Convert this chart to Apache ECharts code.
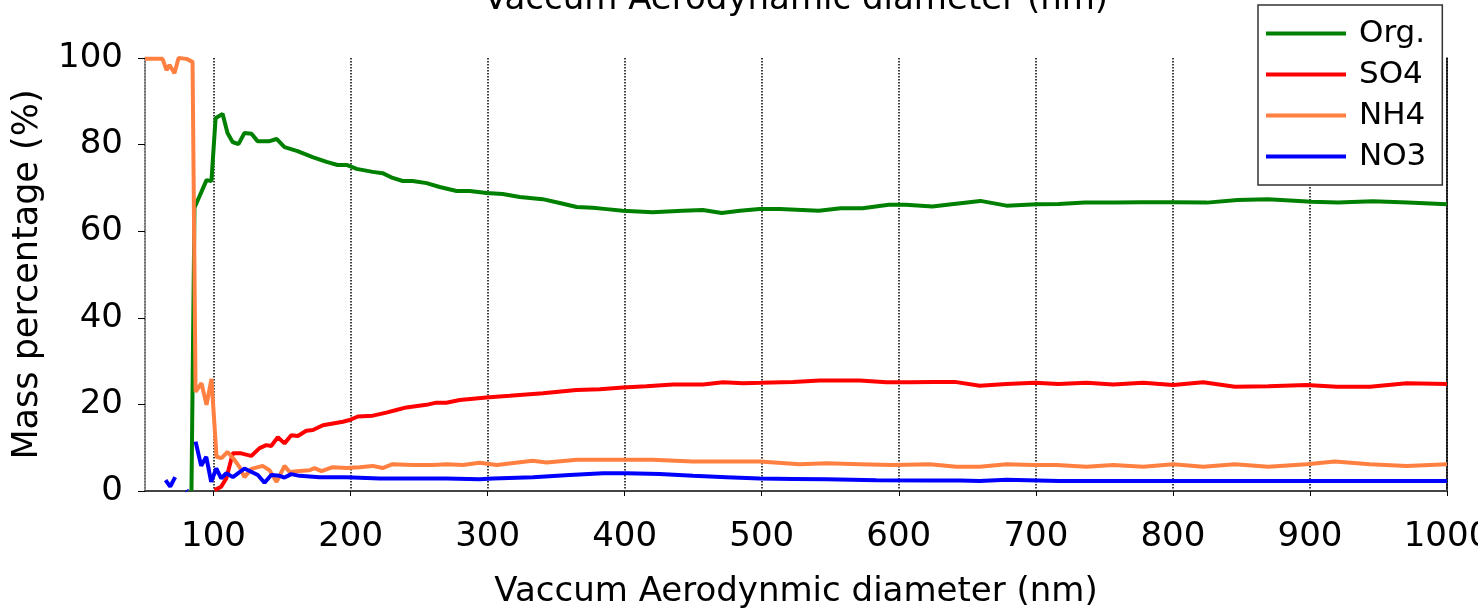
<!DOCTYPE html>
<html>
<head>
    <meta charset="utf-8">
    <title>Mass percentage</title>
    <style type="text/css">
        html, body { margin: 0; padding: 0; background: #fff; }
        #main { width: 1478px; height: 611px; }
    </style>
</head>
<body>
    <div id="main"></div>
</body>
<script src="https://cdn.jsdelivr.net/npm/echarts@6/dist/echarts.min.js"></script>
<script type="text/javascript">
    // [diameter (nm), mass percentage (%)]
    var orgData = [
        [83.9, 0], [86.1, 65.4], [94.9, 71.8], [98.5, 71.6], [101.5, 86.1], [106.6, 87.1],
        [110.2, 82.7], [113.9, 80.6], [118.2, 80.1], [122.6, 82.7], [127.7, 82.5], [132.1, 80.8],
        [140.9, 80.8], [146, 81.3], [151.8, 79.4], [161.3, 78.5], [172.3, 77.1], [182.5, 76],
        [190.5, 75.3], [197.1, 75.3], [204.4, 74.4], [216.1, 73.7], [223.4, 73.4], [230.7, 72.3],
        [238, 71.6], [245.3, 71.6], [255.5, 71.1], [265, 70.2], [277.4, 69.3], [286.9, 69.3],
        [299.3, 68.8], [311, 68.6], [323.4, 67.9], [340.1, 67.4], [352.6, 66.5], [365, 65.6],
        [376.6, 65.4], [386.9, 65.1], [398.5, 64.7], [420.4, 64.4], [442.3, 64.7], [457, 64.9],
        [470.8, 64.2], [484, 64.7], [498.5, 65.1], [513.1, 65.1], [541.6, 64.7], [557.7, 65.3],
        [573.6, 65.3], [592.7, 66.1], [605.1, 66.1], [624.5, 65.7], [640.1, 66.3], [659.5, 67],
        [678.6, 65.9], [700.7, 66.2], [716.8, 66.3], [735.8, 66.6], [758.2, 66.6], [777.2, 66.7],
        [799.5, 66.7], [824.8, 66.6], [847.2, 67.2], [869.3, 67.4], [901.3, 66.8], [920.4, 66.6],
        [945.9, 66.9], [971.3, 66.6], [1000, 66.2]
    ];
    var so4Data = [
        [100.7, 0.2], [105.6, 1.0], [109.3, 2.9], [114.1, 8.7], [120.2, 8.7], [127.5, 8.1],
        [133.6, 9.9], [138.5, 10.6], [142.1, 10.4], [146.9, 12.4], [151.8, 11.0], [156.7, 12.9],
        [161.5, 12.7], [167.7, 13.9], [172.5, 14.1], [179.8, 15.2], [187.1, 15.6], [194.4, 16.0],
        [199.3, 16.4], [205.3, 17.2], [216.3, 17.4], [226.1, 18.1], [233.4, 18.7], [240.7, 19.3],
        [255.3, 19.9], [262.6, 20.4], [269.9, 20.4], [279.6, 21.0], [299.1, 21.6], [316.1, 22.0],
        [340.4, 22.6], [364.7, 23.3], [381.8, 23.5], [398.8, 23.9], [415.8, 24.2], [435.3, 24.6],
        [457.2, 24.6], [471.8, 25.1], [486.4, 24.9], [499.8, 25.0], [522.8, 25.2], [542.3, 25.5],
        [571.5, 25.5], [591, 25.1], [608, 25.1], [625, 25.2], [640.9, 25.2], [659.1, 24.3],
        [678.6, 24.7], [699.3, 25.0], [716.3, 24.7], [737, 25.0], [756.4, 24.6], [778.3, 25.0],
        [800.2, 24.5], [822.1, 25.1], [845.3, 24.1], [869.6, 24.2], [897.6, 24.5], [919.5, 24.1],
        [943.8, 24.1], [970.6, 24.9], [1000, 24.7]
    ];
    var nh4Data = [
        [50, 99.8], [62.8, 99.8], [65.7, 97.2], [67.9, 98.4], [71.5, 96.5], [74.5, 100],
        [80.3, 99.8], [84.7, 99.1], [86.9, 22.9], [91.2, 24.9], [94.9, 19.9], [98.5, 25.9],
        [102.2, 7.9], [105.8, 7.6], [110.2, 9.0], [115.3, 7.2], [119, 5.5], [122.6, 3.2],
        [127.7, 5.1], [135.8, 5.8], [140.9, 4.8], [146, 2.1], [151.8, 5.8], [155.5, 4.4],
        [162.8, 4.6], [170.1, 4.8], [173.7, 5.3], [178.8, 4.6], [186.9, 5.5], [197.1, 5.3],
        [206.6, 5.5], [216.1, 5.8], [223.4, 5.3], [230.7, 6.2], [245.3, 6.0], [259.9, 6.0],
        [270.1, 6.2], [281.8, 6.0], [294.2, 6.5], [306.6, 6.0], [332.8, 7.0], [343.1, 6.6],
        [365, 7.2], [401.5, 7.2], [420.4, 7.2], [449.6, 6.8], [474.4, 6.8], [498.5, 6.8],
        [527.7, 6.2], [547.4, 6.4], [571.5, 6.2], [595.6, 6.0], [622.6, 6.2], [642.1, 5.6],
        [659.1, 5.6], [678.6, 6.2], [698, 6.0], [715.1, 6.0], [737, 5.6], [756.4, 6.0],
        [778.3, 5.6], [800.2, 6.2], [822.1, 5.6], [845.3, 6.2], [869.6, 5.6], [897.6, 6.2],
        [918.2, 6.8], [943.8, 6.2], [970.6, 5.8], [1000, 6.2]
    ];
    var no3Data = [
        [65, 2.5], [68.4, 1.0], [72, 3.2], null, [80.3, 0.2], [80.9, 0], null,
        [86.9, 11.4], [91, 5.8], [94.7, 7.9], [98.3, 2.1], [102, 5.2], [105.6, 2.9],
        [109.3, 4.1], [114.1, 3.2], [122.6, 5.2], [132.3, 3.7], [137.2, 1.9], [142.1, 3.7],
        [148.2, 3.5], [151.8, 3.1], [156.7, 3.9], [162.8, 3.5], [177.4, 3.2], [196.9, 3.2],
        [221.2, 2.9], [245.5, 2.9], [269.9, 2.9], [294.2, 2.7], [303.9, 2.9], [333.1, 3.2],
        [359.9, 3.7], [384.2, 4.1], [401.3, 4.1], [425.5, 3.9], [449.9, 3.5], [474.2, 3.2],
        [498.5, 2.9], [522.8, 2.8], [547.2, 2.7], [583.7, 2.5], [620.2, 2.4], [644.5, 2.4],
        [659, 2.3], [678.6, 2.6], [717, 2.3], [777, 2.3], [849, 2.3], [922, 2.3], [1000, 2.3]
    ];
    var seriesNames = ['Org.', 'SO4', 'NH4', 'NO3'];
    var seriesColors = ['#008000', '#ff0000', '#ff8040', '#0000ff'];
    var seriesData = [orgData, so4Data, nh4Data, no3Data];

    var font = 'DejaVu Sans';

    var series = [];
    for (var i = 0; i < seriesNames.length; i++) {
        series.push({
            name: seriesNames[i],
            type: 'line',
            data: seriesData[i],
            showSymbol: false,
            connectNulls: false,
            animation: false,
            lineStyle: { color: seriesColors[i], width: 4 },
            itemStyle: { color: seriesColors[i] }
        });
    }

    var option = {
        backgroundColor: '#ffffff',
        animation: false,
        grid: { left: 145, right: 31, top: 58, bottom: 120, containLabel: false, outerBoundsMode: 'none' },
        legend: {
            data: seriesNames,
            orient: 'vertical',
            left: 1258,
            top: 5,
            padding: [13, 16, 13, 8],
            itemWidth: 80,
            itemHeight: 4,
            itemGap: 10,
            icon: 'rect',
            backgroundColor: '#ffffff',
            borderColor: '#333333',
            borderWidth: 1.5,
            textStyle: { fontFamily: font, fontSize: 31, color: '#000', padding: [0, 0, 0, 8] }
        },
        xAxis: [{
            type: 'value',
            position: 'bottom',
            min: 50,
            max: 1000,
            splitNumber: 10,
            name: 'Vaccum Aerodynmic diameter (nm)',
            nameLocation: 'middle',
            nameGap: 84,
            nameTextStyle: { fontFamily: font, fontSize: 34, color: '#000' },
            axisLine: { show: true, lineStyle: { color: '#666', width: 1.5 } },
            axisTick: { show: true, inside: false, length: 5, lineStyle: { color: '#000' } },
            axisLabel: {
                showMinLabel: false, margin: 29, fontFamily: font, fontSize: 34, color: '#000',
                formatter: function (v) { return String(v); }
            },
            splitLine: { show: true, lineStyle: { color: '#000', type: 'dotted', width: 1.5 } }
        }, {
            type: 'value',
            position: 'top',
            min: 50,
            max: 1000,
            name: 'Vaccum Aerodynamic diameter (nm)',
            nameLocation: 'middle',
            nameGap: 41,
            nameTextStyle: { fontFamily: font, fontSize: 34, color: '#000' },
            axisLine: { show: true, lineStyle: { color: '#444', width: 2 } },
            axisTick: { show: false },
            axisLabel: { show: false },
            splitLine: { show: false }
        }],
        yAxis: [{
            type: 'value',
            position: 'left',
            min: 0,
            max: 100,
            interval: 20,
            name: 'Mass percentage (%)',
            nameLocation: 'middle',
            nameGap: 100,
            nameTextStyle: { fontFamily: font, fontSize: 35, color: '#000' },
            axisLine: { show: true, lineStyle: { color: '#808080', width: 1.5 } },
            axisTick: { show: true, inside: false, length: 7, lineStyle: { color: '#000' } },
            axisLabel: { margin: 22, fontFamily: font, fontSize: 34, color: '#000' },
            splitLine: { show: false }
        }, {
            type: 'value',
            position: 'right',
            min: 0,
            max: 100,
            interval: 20,
            axisLine: { show: true, lineStyle: { color: '#000', width: 1.5 } },
            axisTick: { show: false },
            axisLabel: { show: false },
            splitLine: { show: false }
        }],
        series: series
    };

    var myChart = echarts.init(document.getElementById('main'));
    myChart.setOption(option);
</script>
</html>
